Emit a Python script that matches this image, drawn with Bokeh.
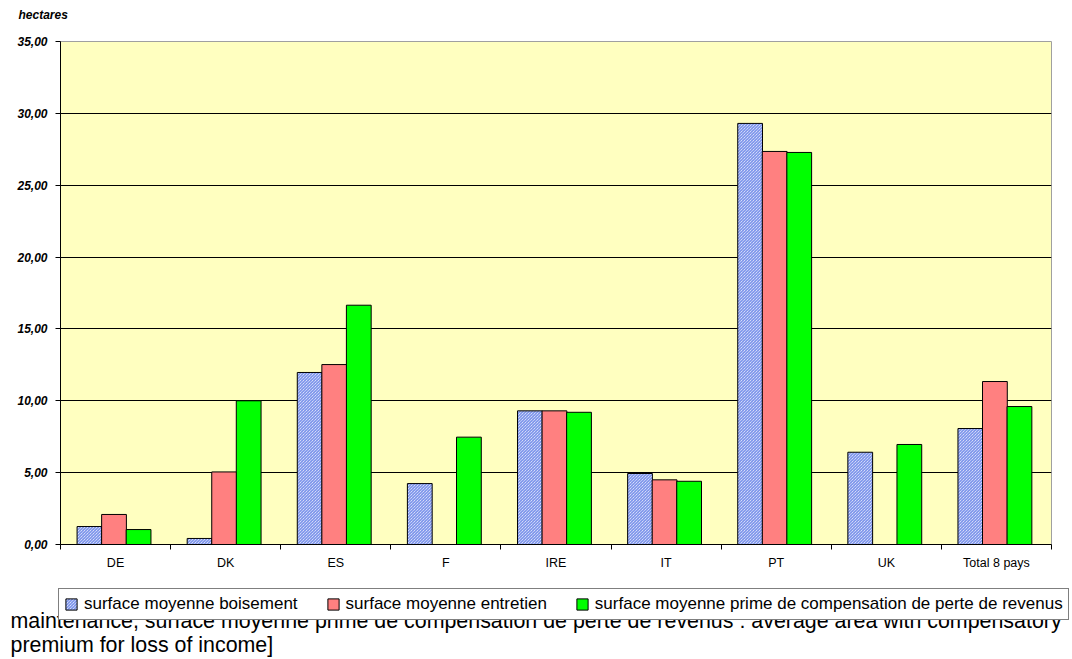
from bokeh.plotting import figure
from bokeh.layouts import column
from bokeh.models import (ColumnDataSource, Range1d, FixedTicker, LinearAxis,
                          CustomJSTickFormatter, Legend, LegendItem, Label)
from bokeh.transform import dodge
from bokeh.embed import file_html
from bokeh.resources import INLINE

categories = ["DE", "DK", "ES", "F", "IRE", "IT", "PT", "UK", "Total 8 pays"]
boisement = [1.25, 0.42, 11.97, 4.24, 9.30, 4.94, 29.30, 6.42, 8.07]
entretien = [2.09, 5.05, 12.52, None, 9.30, 4.50, 27.35, None, 11.34]
compensation = [1.04, 10.00, 16.65, 7.47, 9.20, 4.40, 27.28, 6.96, 9.60]
series_names = ["surface moyenne boisement", "surface moyenne entretien",
                "surface moyenne prime de compensation de perte de revenus"]
y_ticks = [0, 5, 10, 15, 20, 25, 30, 35]
y_unit = "hectares"
note_line1 = "maintenance, surface moyenne prime de compensation de perte de revenus : average area with compensatory"
note_line2 = "premium for loss of income]"

FONT = "Liberation Sans"
n = len(categories)
centers = [i + 0.5 for i in range(n)]


def strip(height):
    s = figure(x_range=Range1d(0, 1), y_range=Range1d(0, 1), width=1072, height=height,
               output_backend="svg", toolbar_location=None, x_axis_location=None,
               y_axis_location=None, min_border=0)
    s.frame_align = False
    s.outline_line_color = None
    s.background_fill_color = "white"
    s.grid.visible = False
    return s


# top strip: unit label
p0 = strip(30)
p0.add_layout(Label(x=18, y=16, x_units="screen", y_units="screen", text=y_unit,
                    text_font=FONT, text_font_style="bold italic", text_font_size="12px",
                    text_baseline="middle", text_color="black"))

p = figure(x_range=Range1d(0, n), y_range=Range1d(0, 35), width=1072, height=550,
           output_backend="svg", toolbar_location=None, x_axis_location=None,
           min_border_left=60, min_border_right=21, min_border_top=11, min_border_bottom=36)
p.frame_align = False
p.background_fill_color = "#ffffc0"
p.border_fill_color = "white"
p.outline_line_color = "#a0a0a0"
p.outline_line_width = 1
for g in p.xgrid:
    g.visible = False

# y axis
ya = p.yaxis[0]
ya.ticker = FixedTicker(ticks=y_ticks)
ya.formatter = CustomJSTickFormatter(code="return tick.toFixed(2).replace('.', ',')")
ya.major_label_text_font = FONT
ya.major_label_text_font_style = "bold italic"
ya.major_label_text_font_size = "12px"
ya.major_label_text_color = "black"
ya.major_tick_in = 0
ya.major_tick_out = 5
ya.minor_tick_line_color = None
ya.axis_line_color = "black"
ya.major_tick_line_color = "black"
ya.major_label_standoff = 8

p.ygrid.ticker = FixedTicker(ticks=y_ticks[1:-1])
p.ygrid.grid_line_color = "black"
p.ygrid.grid_line_width = 1

# boundary tick axis (ticks between categories)
bounds = list(range(n + 1))
tick_axis = LinearAxis(ticker=FixedTicker(ticks=bounds),
                       major_label_text_font_size="0px", major_label_standoff=0,
                       major_tick_in=0, major_tick_out=5, minor_tick_line_color=None,
                       axis_line_color="black", major_tick_line_color="black",
                       major_label_overrides={b: "" for b in bounds})
p.add_layout(tick_axis, "below")
# category label axis
cat_axis = LinearAxis(ticker=FixedTicker(ticks=centers),
                      major_label_overrides={c: name for c, name in zip(centers, categories)},
                      major_tick_line_color=None, axis_line_color=None, minor_tick_line_color=None,
                      major_label_text_font=FONT, major_label_text_font_size="12.5px",
                      major_label_text_color="black", major_label_standoff=0)
p.add_layout(cat_axis, "below")

# bars
bw = 0.225
offsets = [-0.237, -0.014, 0.209]
series = [boisement, entretien, compensation]
styles = [
    dict(fill_color="white", hatch_pattern="left_diagonal_line", hatch_color="#5a78e6",
         hatch_scale=3, hatch_weight=1),
    dict(fill_color="#ff8080"),
    dict(fill_color="#00ff00"),
]
for vals, off, st in zip(series, offsets, styles):
    xs = [categories.index(c) + 0.5 for c, v in zip(categories, vals) if v is not None]
    vs = [v for v in vals if v is not None]
    src = ColumnDataSource(dict(x=xs, val=vs))
    p.vbar(x=dodge("x", off), top="val", width=bw, source=src,
           line_color="black", line_width=1, **st)

# bottom strip: legend over note text
p2 = strip(79)
p2.add_layout(Label(x=10, y=39, x_units="screen", y_units="screen", text=note_line1,
                    text_font=FONT, text_font_size="21.4px", text_baseline="alphabetic",
                    text_color="black"))
p2.add_layout(Label(x=10, y=15, x_units="screen", y_units="screen", text=note_line2,
                    text_font=FONT, text_font_size="21.4px", text_baseline="alphabetic",
                    text_color="black"))

items = []
for st, name in zip(styles, series_names):
    # off-range placeholder bar, used only to draw the legend swatch
    r = p2.vbar(x=[-10], top=[0], width=0.1, line_color="black", line_width=1, **st)
    items.append(LegendItem(label=name, renderers=[r]))

legend = Legend(items=items, orientation="horizontal", location=(58, 39),
                label_text_font=FONT, label_text_font_size="17px", label_text_color="black",
                glyph_width=14, glyph_height=14, label_standoff=6, spacing=28,
                padding=5, margin=0, border_line_color="black", border_line_width=1,
                background_fill_color="white", background_fill_alpha=1.0)
p2.add_layout(legend, "center")

layout = column(p0, p, p2, spacing=0)
open("out.html", "w").write(file_html(layout, INLINE))
